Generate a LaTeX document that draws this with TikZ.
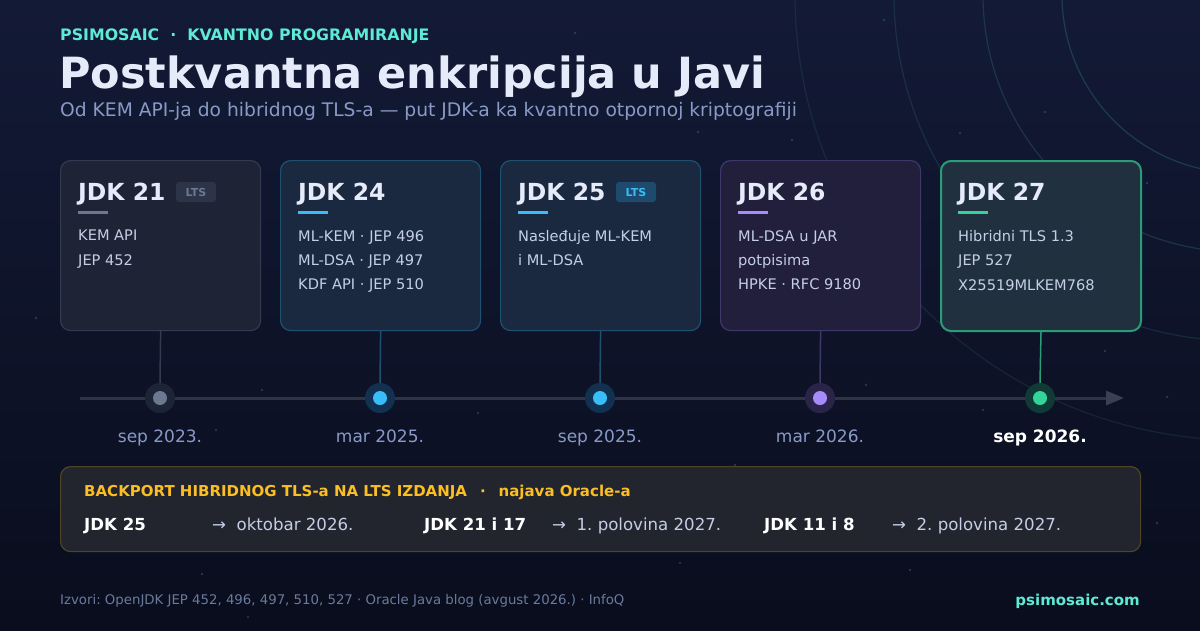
\documentclass[tikz,border=0pt]{standalone}
\usepackage{fontspec}
\setmainfont{DejaVu Sans}
\usetikzlibrary{arrows.meta,positioning}
\frenchspacing

\definecolor{bgtop}{HTML}{131A36}
\definecolor{bgbot}{HTML}{090D1D}
\definecolor{teal}{HTML}{5EEAD4}
\definecolor{titlecol}{HTML}{E6EBFA}
\definecolor{subcol}{HTML}{8A9AC6}
\definecolor{bodycol}{HTML}{C5CEE6}
\definecolor{ringcol}{HTML}{2A5A66}
\definecolor{axiscol}{HTML}{2E3446}
\definecolor{tipcol}{HTML}{3A4052}
% card colours: fill / border / accent / halo
\definecolor{fillA}{HTML}{1E2336}\definecolor{lineA}{HTML}{343A50}\definecolor{accA}{HTML}{6B7890}\definecolor{haloA}{HTML}{1E2438}
\definecolor{fillB}{HTML}{1A2840}\definecolor{lineB}{HTML}{1E5070}\definecolor{accB}{HTML}{38BDF8}\definecolor{haloB}{HTML}{123050}
\definecolor{fillC}{HTML}{211F3C}\definecolor{lineC}{HTML}{3E3868}\definecolor{accC}{HTML}{A78BFA}\definecolor{haloC}{HTML}{2A2548}
\definecolor{fillD}{HTML}{21303F}\definecolor{lineD}{HTML}{2A9D78}\definecolor{accD}{HTML}{34D399}\definecolor{haloD}{HTML}{0F3A35}
\definecolor{badgeA}{HTML}{2D3448}\definecolor{badgeB}{HTML}{1E4A6E}
\definecolor{boxfill}{HTML}{22252E}
\definecolor{boxline}{HTML}{4D4526}
\definecolor{gold}{HTML}{FBBF24}
\definecolor{footcol}{HTML}{6B7A9C}

\tikzset{
  card/.style={rounded corners=10pt, line width=1.2pt, minimum width=200pt,
    minimum height=170pt, anchor=north west, inner sep=0pt},
  jdk/.style={anchor=base west, inner sep=0pt, text=titlecol,
    font=\fontsize{23.5}{28}\selectfont\bfseries},
  badge/.style={rounded corners=3pt, inner sep=0pt, minimum width=40pt,
    minimum height=20pt, font=\fontsize{11}{13}\selectfont\bfseries},
  body/.style={anchor=north west, inner sep=0pt, align=left, text=bodycol,
    font=\fontsize{14.6}{24.4}\selectfont},
  halo/.style={circle, inner sep=0pt, minimum size=30pt},
  dot/.style={circle, inner sep=0pt, minimum size=14pt},
  date/.style={anchor=base, inner sep=0pt, text=subcol, font=\fontsize{17}{20}\selectfont},
  datebold/.style={anchor=base, inner sep=0pt, text=white, font=\fontsize{17}{20}\selectfont\bfseries},
  rowkey/.style={anchor=base west, inner sep=0pt, text=white, font=\fontsize{16.6}{19}\selectfont\bfseries},
  rowval/.style={anchor=base west, inner sep=0pt, text=bodycol, font=\fontsize{16.6}{19}\selectfont},
}

\begin{document}
\begin{tikzpicture}[x=1pt, y=-1pt]
  \shade [top color=bgtop, bottom color=bgbot] (0,0) rectangle (1200,630);
  \useasboundingbox (0,0) rectangle (1200,630);

  % faint rings top right
  \begin{scope}
    \clip (0,0) rectangle (1200,630);
    \foreach \r/\o in {178/0.55, 257/0.45, 346/0.35, 445/0.28}
      \draw [ringcol, opacity=\o, line width=1.2pt] (1240,-5) circle (\r);
  \end{scope}

  % stars
  \foreach \sx/\sy in {36/318, 108/292, 236/268, 262/390, 216/430, 330/470, 478/413,
      515/323, 575/33, 698/132, 700/300, 735/465, 792/140, 836/183, 866/385,
      884/20, 895/240, 910/570, 960/133, 983/410, 1045/112, 1069/208, 1105/351,
      1147/183, 1167/397, 1157/523, 202/574, 248/617, 470/548, 680/563, 848/550}
    \fill [accA, opacity=0.35] (\sx,\sy) circle (1.3);

  % header
  \node [anchor=base west, inner sep=0pt, text=teal, font=\fontsize{15.8}{18}\selectfont\bfseries]
    (tag) at (60,40) {PSIMOSAIC \ · \ KVANTNO PROGRAMIRANJE};
  \node [anchor=base west, inner sep=0pt, text=titlecol, font=\fontsize{43}{50}\selectfont\bfseries]
    (title) at (59,88) {Postkvantna enkripcija u Javi};
  \node [anchor=base west, inner sep=0pt, text=subcol, font=\fontsize{18.7}{22}\selectfont]
    (sub) at (60,116) {Od KEM API-ja do hibridnog TLS-a — put JDK-a ka kvantno otpornoj kriptografiji};

  % timeline axis
  \coordinate (ax0) at (80,398);
  \coordinate (ax1) at (1124,398);
  \draw [axiscol, line width=3pt, -{Triangle[length=18pt, width=14pt, color=tipcol]}] (ax0) -- (ax1);

  % cards, connectors and dots
  \foreach \n/\x/\f/\l/\a/\h/\lw/\ds/\dt/\txt in {
      21/60/fillA/lineA/accA/haloA/1.2/date/{sep 2023.}/{KEM API\\JEP 452},
      24/280/fillB/lineB/accB/haloB/1.2/date/{mar 2025.}/{ML-KEM · JEP 496\\ML-DSA · JEP 497\\KDF API · JEP 510},
      25/500/fillB/lineB/accB/haloB/1.2/date/{sep 2025.}/{Nasleđuje ML-KEM\\i ML-DSA},
      26/720/fillC/lineC/accC/haloC/1.2/date/{mar 2026.}/{ML-DSA u JAR\\potpisima\\HPKE · RFC 9180},
      27/940/fillD/lineD/accD/haloD/2/datebold/{sep 2026.}/{Hibridni TLS 1.3\\JEP 527\\X25519MLKEM768}} {
    \node [card, fill=\f, draw=\l, line width=\lw pt] (c\n) at (\x,160) {};
    \node [jdk] (j\n) at (\x+18,200) {JDK \n};
    \draw [\a, line width=3pt] (\x+18,212) -- (\x+48,212);
    \node [body] (b\n) at (\x+18,230) {\txt};
    \node [halo, fill=\h] (h\n) at (\x+100,398) {};
    \node [dot, fill=\a] (d\n) at (\x+100,398) {};
    \draw [\l, line width=1.5pt] (c\n.south) -- (h\n.north);
    \node [\ds] (t\n) at (\x+100,442) {\dt};
  }

  % LTS badges
  \node [badge, fill=badgeA, text=accA] (lts21) at (196,192) {LTS};
  \node [badge, fill=badgeB, text=accB] (lts25) at (636,192) {LTS};

  % backport box
  \node [card, fill=boxfill, draw=boxline, minimum width=1080pt, minimum height=85pt] (bp) at (60,466) {};
  \node [anchor=base west, inner sep=0pt, text=gold, font=\fontsize{15}{17}\selectfont\bfseries]
    (bph) at (84,496) {BACKPORT HIBRIDNOG TLS-a NA LTS IZDANJA \ \,· \ \,najava Oracle-a};
  \node [rowkey] (k1) at (84,530) {JDK 25};
  \node [rowval] (v1) at (212,530) {→ \ oktobar 2026.};
  \node [rowkey] (k2) at (424,530) {JDK 21 i 17};
  \node [rowval] (v2) at (552,530) {→ \ 1. polovina 2027.};
  \node [rowkey] (k3) at (764,530) {JDK 11 i 8};
  \node [rowval] (v3) at (892,530) {→ \ 2. polovina 2027.};

  % footer
  \node [anchor=base west, inner sep=0pt, text=footcol, font=\fontsize{13.3}{15}\selectfont]
    (src) at (60,604) {Izvori: OpenJDK JEP 452, 496, 497, 510, 527 · Oracle Java blog (avgust 2026.) · InfoQ};
  \node [anchor=base east, inner sep=0pt, text=teal, font=\fontsize{15}{17}\selectfont\bfseries]
    (site) at (1140,605) {psimosaic.com};
\end{tikzpicture}
\end{document}
